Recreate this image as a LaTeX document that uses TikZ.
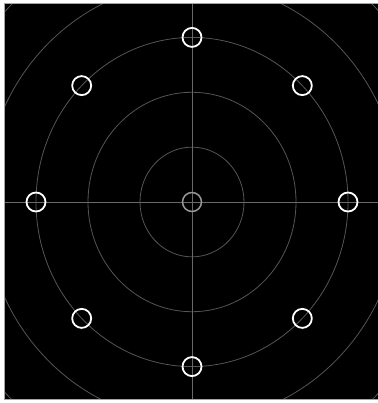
\documentclass[tikz,border=0pt]{standalone}
\usetikzlibrary{calc}
\begin{document}
\begin{tikzpicture}[x=1pt,y=-1pt]
\definecolor{ringgray}{RGB}{85,85,85}
\definecolor{axisgray}{RGB}{105,105,105}
\definecolor{framegray}{RGB}{165,165,165}
\definecolor{centergray}{RGB}{150,150,150}
\tikzset{
  ring/.style={draw=ringgray, line width=0.8pt},
  axisline/.style={draw=axisgray, line width=1pt},
  marker/.style={circle, draw=white, line width=1.8pt, minimum size=19pt, inner sep=0pt},
  centermark/.style={circle, draw=centergray, line width=1.5pt, minimum size=19pt, inner sep=0pt}
}
\useasboundingbox (0,0) rectangle (377,403);
\fill[white] (0,0) rectangle (377,403);
\fill[black] (4,3.5) rectangle (380,399);
\coordinate (c) at (192,202);
\begin{scope}
\clip (4,3.5) rectangle (380,399);
\foreach \r in {52,104,156,208,260}{
  \draw[ring] (c) ellipse [x radius=\r pt, y radius=1.055*\r pt];
}
\coordinate (axL) at (4,202);
\coordinate (axR) at (380,202);
\coordinate (axT) at (192,3.5);
\coordinate (axB) at (192,399);
\draw[axisline] (axL) -- (axR);
\draw[axisline] (axT) -- (axB);
\end{scope}
\draw[framegray, line width=1pt] (380,3.5) -- (4,3.5) -- (4,399) -- (380,399);
\node[centermark] (m0) at (c) {};
\foreach \a/\n in {0/e,45/ne,90/n,135/nw,180/w,225/sw,270/s,315/se}{
  \node[marker] (m\n) at ($(c)+({156*cos(\a)},{-164.6*sin(\a)})$) {};
}
\end{tikzpicture}
\end{document}
